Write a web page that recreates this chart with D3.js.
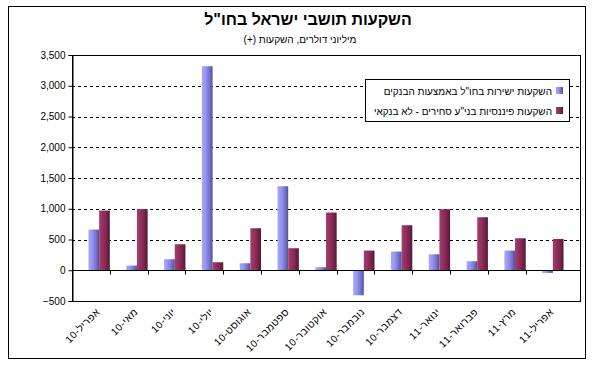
<!DOCTYPE html>
<html><head><meta charset="utf-8">
<script src="https://cdn.jsdelivr.net/npm/d3@7"></script>
<style>
html,body{margin:0;padding:0;background:#fff;}
svg{display:block;font-family:"Liberation Sans",Arial,"DejaVu Sans",sans-serif;}
</style></head>
<body><svg id="c" width="600" height="371"></svg>
<script>
const categories = ["אפריל-10","מאי-10","יוני-10","יולי-10","אוגוסט-10","ספטמבר-10","אוקטובר-10","נובמבר-10","דצמבר-10","ינואר-11","פברואר-11","מרץ-11","אפריל-11"];
const seriesNames = ["השקעות ישירות בחו\"ל באמצעות הבנקים","השקעות פיננסיות בני\"ע סחירים - לא בנקאי"];
const directBanks = [662, 76, 179, 3317, 114, 1366, 49, -407, 304, 260, 146, 320, -44];
const financialNonBank = [970, 995, 423, 130, 683, 358, 938, 320, 732, 992, 862, 520, 509];
const yTicks = [-500, 0, 500, 1000, 1500, 2000, 2500, 3000, 3500];
const titleText = "השקעות תושבי ישראל בחו\"ל";
const subtitleText = "מיליוני דולרים, השקעות (+)";

const svg = d3.select("#c");
const pLeft = 72, pRight = 580, pTop = 55, pBottom = 301;

// gradients
const defs = svg.append("defs");
function grad(id, stops){
  const g = defs.append("linearGradient").attr("id", id).attr("x1","0").attr("x2","1").attr("y1","0").attr("y2","0");
  stops.forEach(s => g.append("stop").attr("offset", s[0]).attr("stop-color", s[1]));
}
grad("gBlue", [[0,"#a7a7ff"],[0.35,"#9595f2"],[0.75,"#6f6fc4"],[1,"#4f4f96"]]);
grad("gRed", [[0,"#a33d6f"],[0.35,"#94305f"],[0.75,"#74224a"],[1,"#521634"]]);
const fills = ["url(#gBlue)","url(#gRed)"];

// outer frame
svg.append("rect").attr("x",8.5).attr("y",6.5).attr("width",577).attr("height",352)
  .attr("fill","#fff").attr("stroke","#000").attr("stroke-width",1);

// title
svg.append("text").attr("x",308).attr("y",25).attr("text-anchor","middle")
  .attr("direction","rtl").attr("font-size",16).attr("font-weight","bold").text(titleText);
svg.append("text").attr("x",300).attr("y",43).attr("text-anchor","middle")
  .attr("direction","rtl").attr("font-size",10).text(subtitleText);

const y = d3.scaleLinear().domain([-500, 3500]).range([pBottom, pTop]);
const x = d3.scaleBand().domain(categories).range([pLeft, pRight]).padding(0.436);
const xs = d3.scaleBand().domain([0,1]).range([0, x.bandwidth()]);

// gridlines
svg.append("g").selectAll("line").data(yTicks.filter(v => v > 0 && v < 3500)).join("line")
  .attr("x1", pLeft).attr("x2", pRight)
  .attr("y1", d => Math.round(y(d)) + 0.5).attr("y2", d => Math.round(y(d)) + 0.5)
  .attr("stroke","#000").attr("stroke-dasharray","3,3").attr("stroke-width",1);

// plot border
svg.append("rect").attr("x",pLeft+0.5).attr("y",pTop+0.5).attr("width",pRight-pLeft).attr("height",pBottom-pTop)
  .attr("fill","none").attr("stroke","#000");

// bars
const data = categories.map((c,i) => ({c, v:[directBanks[i], financialNonBank[i]]}));
const groups = svg.append("g").selectAll("g").data(data).join("g")
  .attr("transform", d => `translate(${x(d.c)},0)`);
groups.selectAll("rect").data(d => d.v.map((v,k) => ({v,k}))).join("rect")
  .attr("x", d => xs(d.k)).attr("width", xs.bandwidth())
  .attr("y", d => Math.min(y(d.v), y(0)))
  .attr("height", d => Math.abs(y(d.v) - y(0)))
  .attr("fill", d => fills[d.k]);

// y axis
const yAxis = d3.axisLeft(y).tickValues(yTicks).tickSize(4).tickFormat(d3.format(","));
const ya = svg.append("g").attr("transform",`translate(${pLeft+0.5},0)`).call(yAxis);
ya.select(".domain").attr("stroke","#000");
ya.selectAll(".tick line").attr("stroke","#000");
ya.selectAll("text").attr("font-size",10).attr("font-family","'Liberation Sans',Arial,sans-serif").attr("fill","#000").attr("x",-7);

// zero line with category ticks
const zy = Math.round(y(0)) + 0.5;
svg.append("line").attr("x1",pLeft).attr("x2",pRight).attr("y1",zy).attr("y2",zy).attr("stroke","#000");
const step = x.step();
svg.append("g").selectAll("line").data(d3.range(1, categories.length)).join("line")
  .attr("x1", i => Math.round(pLeft + i*step) + 0.5).attr("x2", i => Math.round(pLeft + i*step) + 0.5)
  .attr("y1", zy).attr("y2", zy + 4).attr("stroke","#000");

// x labels
svg.append("g").selectAll("text").data(categories).join("text")
  .attr("transform", d => `translate(${x(d) + x.bandwidth()/2 - 1},${pBottom + 9}) rotate(-45)`)
  .attr("direction","rtl").attr("text-anchor","start").attr("letter-spacing",0.5)
  .attr("font-size",10).attr("dy","0.35em").text(d => d);

// legend
const lg = svg.append("g");
lg.append("rect").attr("x",365.5).attr("y",79.5).attr("width",204).attr("height",42)
  .attr("fill","#fff").attr("stroke","#000");
seriesNames.forEach((n,k) => {
  const yy = 91 + k*20;
  lg.append("rect").attr("x",556).attr("y",yy-4).attr("width",7).attr("height",7).attr("fill",fills[k]);
  lg.append("text").attr("x",552).attr("y",yy).attr("dy","0.35em").attr("direction","rtl")
    .attr("text-anchor","start").attr("font-size",10).text(n);
});
</script></body></html>
